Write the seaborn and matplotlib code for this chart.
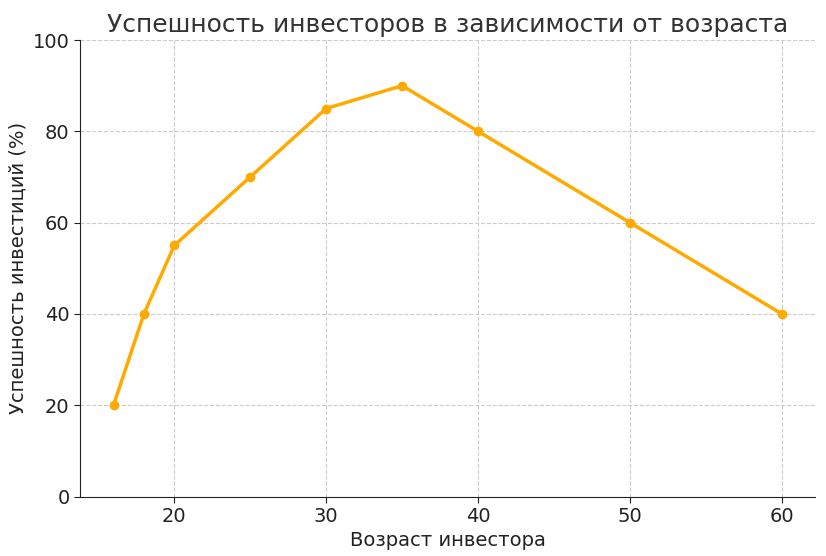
import matplotlib
matplotlib.use("Agg")
import matplotlib.pyplot as plt
import seaborn as sns
import pandas as pd

ages = [16, 18, 20, 25, 30, 35, 40, 50, 60]
success = [20, 40, 55, 70, 85, 90, 80, 60, 40]

sns.set_style("white")
plt.rcParams['font.family'] = ['DejaVu Sans']
df = pd.DataFrame({"age": ages, "success": success})

fig, ax = plt.subplots(figsize=(8.26, 5.56), dpi=100)
sns.lineplot(data=df, x="age", y="success", ax=ax, color="#FFAA00", linewidth=2.5,
             marker="o", markersize=7, markeredgewidth=0)
ax.set_ylim(0, 100)
ax.grid(True, linestyle="--", color="#cccccc", linewidth=0.8)
for s in ["top", "right"]:
    ax.spines[s].set_visible(False)
ax.spines["left"].set_color("#222222")
ax.spines["bottom"].set_color("#222222")
ax.tick_params(labelsize=14, colors="#222222", length=4, left=True, bottom=True)
ax.set_title("Успешность инвесторов в зависимости от возраста", fontsize=18, color="#333333")
ax.set_xlabel("Возраст инвестора", fontsize=14, color="#222222")
ax.set_ylabel("Успешность инвестиций (%)", fontsize=14, color="#222222")
fig.subplots_adjust(left=0.097, right=0.987, top=0.928, bottom=0.107)
fig.savefig("out.png", dpi=100)
